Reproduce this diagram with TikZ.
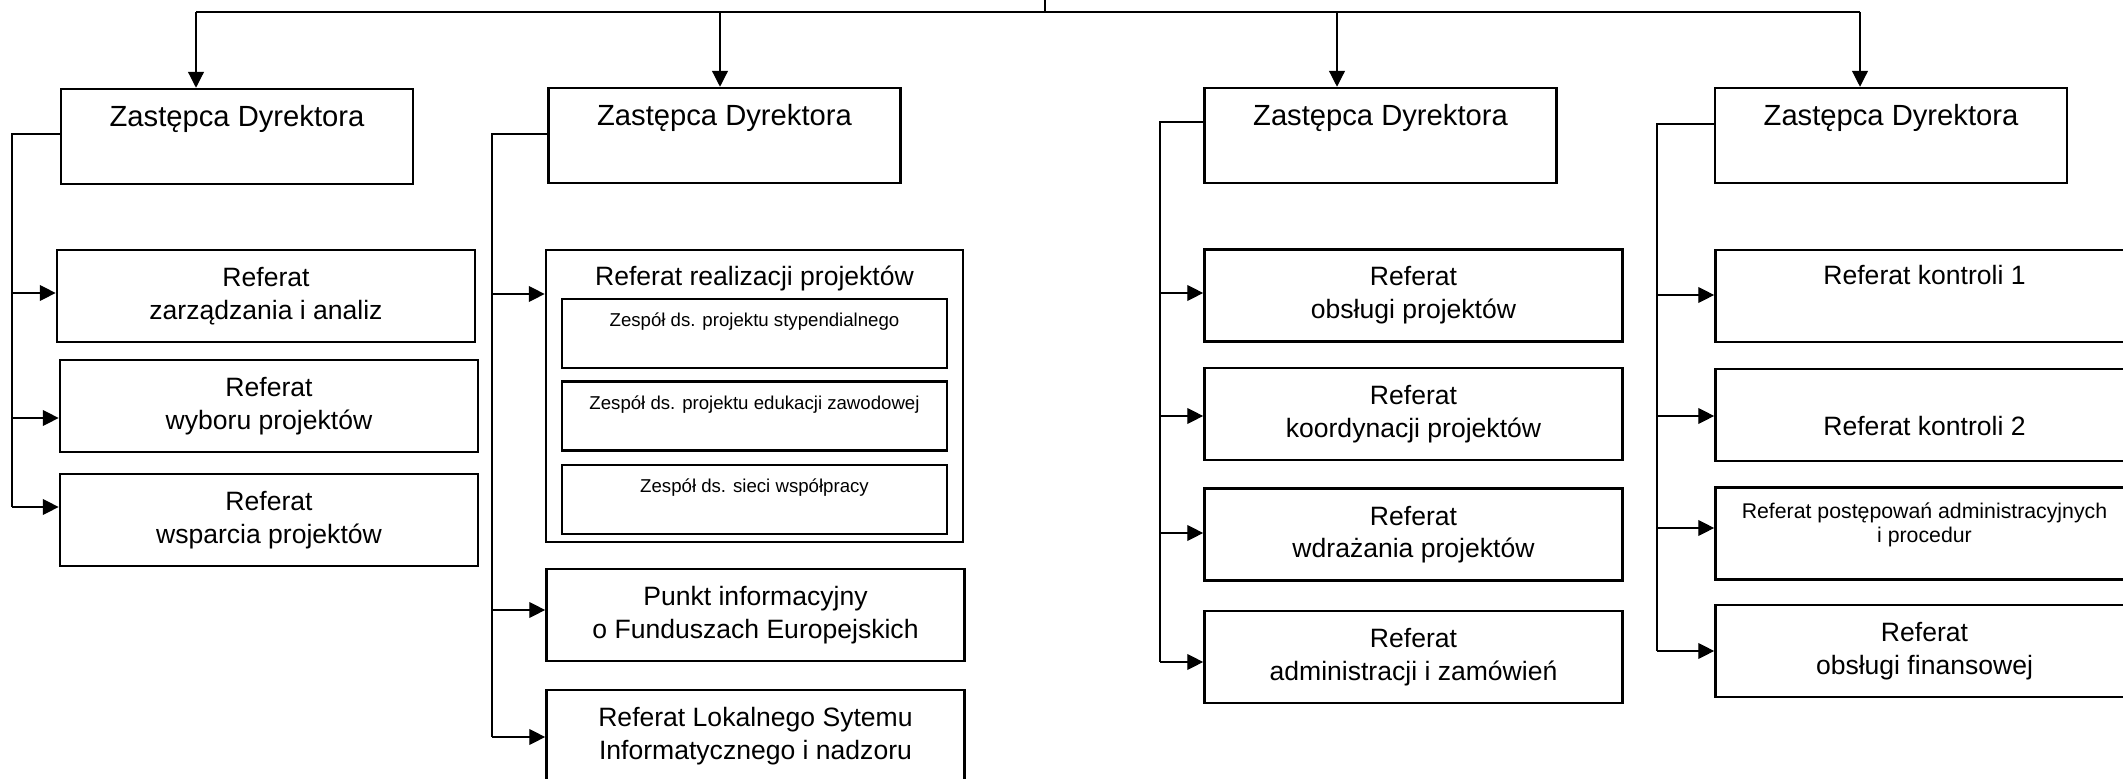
\documentclass[tikz,border=0pt]{standalone}
\usepackage{fontspec}
\setmainfont{Liberation Sans}
\usetikzlibrary{arrows.meta, positioning}
\newcommand{\zfont}{\fontsize{8.3}{10}\selectfont}
\newcommand{\rfont}{\fontsize{7.55}{9.3}\selectfont}
\newcommand{\pfont}{\fontsize{6.05}{6.9}\selectfont}
\newcommand{\tfont}{\fontsize{5.3}{6.4}\selectfont}
\tikzset{
  box/.style={rectangle, draw, line width=0.7pt, inner sep=0pt,
              align=center, font=\rfont},
  zbox/.style={box, minimum width=3.52cm, minimum height=0.95cm},
  refbox/.style={box, minimum width=4.18cm, minimum height=0.92cm},
  teambox/.style={box, minimum width=3.85cm, minimum height=0.69cm},
  bigbox/.style={box, minimum width=4.17cm, minimum height=2.92cm},
  boxtext/.style={inner sep=0pt, anchor=base, align=center, font=\rfont},
  link/.style={line width=0.35pt},
  arr/.style={link, -{Triangle[length=4.5pt, width=4.5pt]}},
}

\begin{document}
\begin{tikzpicture}[x=0.01cm, y=-0.01cm]
        \clip (0,0) rectangle (2123,779);

        % Zastepcy Dyrektora
        \node[zbox] (z1) at (237,136.5) {};
        \node[zbox] (z2) at (724.5,135.5) {};
        \node[zbox] (z3) at (1380.5,135.5) {};
        \node[zbox] (z4) at (1891,135.5) {};
        \foreach \n in {z1,z2,z3,z4}{
          \node[boxtext, font=\zfont] (\n-txt) at ([yshift=-0.39cm]\n.north) {Zastępca Dyrektora};
        }

        % top bus
        \coordinate (top) at (1045,0);
        \coordinate (busL) at (196,12);
        \coordinate (busR) at (1860,12);
        \draw[link] (top) -- (top |- busL);
        \draw[link] (busL) -- (busR);
        \foreach \x/\n in {196/z1, 720/z2, 1337/z3, 1860/z4}{
          \draw[arr] (\x,12) -- (\x,0 |- \n.north);
        }

        % column 1
        \node[refbox] (r11) at (266,296) {Referat\\zarządzania i analiz};
        \node[refbox] (r12) at (269,406) {Referat\\wyboru projektów};
        \node[refbox] (r13) at (269,520) {Referat\\wsparcia projektów};
        \draw[link] (z1.west |- 0,134) -- (12,134) -- (12,507);
        \foreach \n/\y in {r11/293, r12/418, r13/507}{
          \draw[arr] (12,\y) -- (\n.west |- 0,\y);
        }

        % column 2
        \node[bigbox] (rp) at (754.5,396) {};
        \node[boxtext] (rp-txt) at ([yshift=-0.37cm]rp.north) {Referat realizacji projektów};
        \node[teambox] (t1) at (754.5,333.5) {};
        \node[teambox, below=0.11cm of t1] (t2) {};
        \node[teambox, below=0.12cm of t2] (t3) {};
        \foreach \n/\txt in {t1/Zespół ds. projektu stypendialnego,
                             t2/Zespół ds. projektu edukacji zawodowej,
                             t3/Zespół ds. sieci współpracy}{
          \node[boxtext, font=\tfont] (\n-txt) at ([yshift=-0.29cm]\n.north) {\txt};
        }
        \node[refbox] (pi) at (755.5,615) {Punkt informacyjny\\o Funduszach Europejskich};
        \node[refbox] (lsi) at (755.5,736) {Referat Lokalnego Sytemu\\Informatycznego i nadzoru};
        \draw[link] (z2.west |- 0,134) -- (492,134) -- (492,737);
        \foreach \n/\y in {rp/294, pi/610, lsi/737}{
          \draw[arr] (492,\y) -- (\n.west |- 0,\y);
        }

        % column 3
        \node[refbox] (ob) at (1413.5,295.5) {Referat\\obsługi projektów};
        \node[refbox] (ko) at (1413.5,414) {Referat\\koordynacji projektów};
        \node[refbox] (wd) at (1413.5,534.5) {Referat\\wdrażania projektów};
        \node[refbox] (ad) at (1413.5,657) {Referat\\administracji i zamówień};
        \draw[link] (z3.west |- 0,122) -- (1160,122) -- (1160,662);
        \foreach \n/\y in {ob/293, ko/416, wd/533, ad/662}{
          \draw[arr] (1160,\y) -- (\n.west |- 0,\y);
        }

        % column 4
        \node[refbox] (k1) at (1924.5,296) {};
        \node[refbox] (k2) at (1924.5,415) {};
        \node[refbox] (pa) at (1924.5,533.5) {};
        \node[refbox] (fin) at (1924.5,651) {Referat\\obsługi finansowej};
        \node[boxtext] (k1-txt) at ([yshift=-0.36cm]k1.north) {Referat kontroli 1};
        \node[boxtext] (k2-txt) at ([yshift=-0.68cm]k2.north) {Referat kontroli 2};
        \node[boxtext, font=\pfont] (pa-txt) at ([yshift=-0.56cm]pa.north) {Referat postępowań administracyjnych\\i procedur};
        \draw[link] (z4.west |- 0,124) -- (1657,124) -- (1657,651);
        \foreach \n/\y in {k1/295, k2/416, pa/528, fin/651}{
          \draw[arr] (1657,\y) -- (\n.west |- 0,\y);
        }

      \end{tikzpicture}
\end{document}
